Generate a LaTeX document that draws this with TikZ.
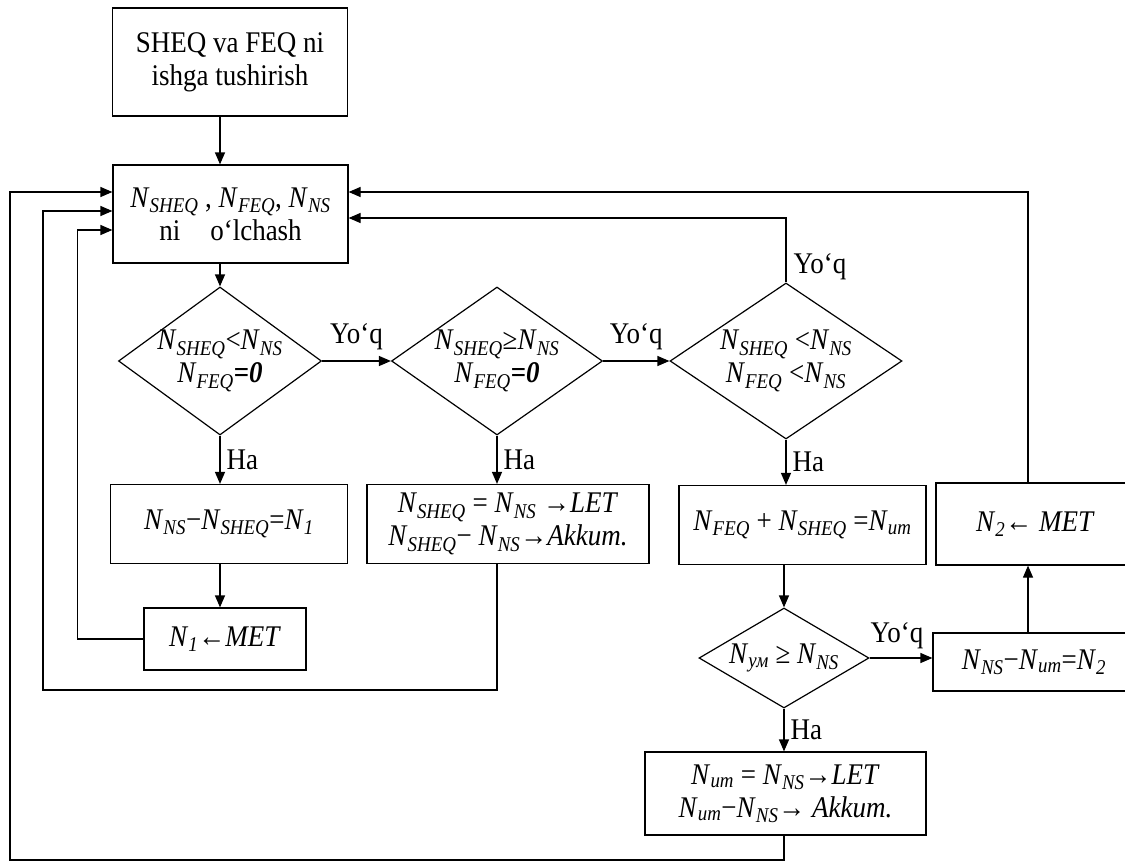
\documentclass[tikz,border=0pt]{standalone}
\usepackage{fontspec}
\setmainfont{Liberation Serif}[FakeStretch=0.9]
\usetikzlibrary{arrows.meta,positioning,calc,shapes.geometric}
\newcommand{\Nx}[1]{\textit{N}\textsubscript{\textit{#1}}}

\begin{document}
\begin{tikzpicture}[x=1pt,y=-1pt,line width=1.2pt,>={Triangle[length=12pt,width=10pt]},
  font=\fontsize{30}{33}\selectfont,
  box/.style={draw,fill=white,inner sep=2pt,align=center},
  dec/.style={draw,fill=white,diamond,inner sep=0pt},
  ans/.style={inner sep=3pt}]
  \useasboundingbox (0,0) rectangle (1125,862);
  \clip (0,0) rectangle (1125,862);
  % boxes and decisions
  \node[box,minimum width=235pt,minimum height=108pt] (start) at (230,62) {SHEQ va FEQ ni\\ ishga tushirish};
  \node[box,minimum width=235pt,minimum height=98pt]  (meas)  at (230.5,214) {\Nx{SHEQ} , \Nx{FEQ}, \Nx{NS}\\ ni\quad o‘lchash};
  \node[dec,minimum width=203pt,minimum height=148pt,label={[align=center]center:{\Nx{SHEQ}<\Nx{NS}\\\Nx{FEQ}\textbf{=\textit{0}}}}] (d1) at (220,361) {};
  \node[dec,minimum width=211pt,minimum height=148pt,label={[align=center]center:{\Nx{SHEQ}≥\Nx{NS}\\\Nx{FEQ}\textbf{=\textit{0}}}}] (d2) at (497,361) {};
  \node[dec,minimum width=232pt,minimum height=156pt,label={[align=center]center:{\Nx{SHEQ} <\Nx{NS}\\\Nx{FEQ} <\Nx{NS}}}] (d3) at (786,361) {};
  \node[box,minimum width=237pt,minimum height=79pt] (nOne)  at (229,524) {\Nx{NS}−\Nx{SHEQ}=\Nx{1}};
  \node[box,minimum width=282pt,minimum height=79pt] (let)   at (508,524) {\Nx{SHEQ} = \Nx{NS} →\textit{LET}\\ \Nx{SHEQ}− \Nx{NS}→\textit{Akkum.}};
  \node[box,minimum width=162pt,minimum height=62pt] (metOne) at (225,639) {\Nx{1}←\textit{MET}};
  \node[box,minimum width=247pt,minimum height=79pt] (sum)   at (802.5,525) {\Nx{FEQ} + \Nx{SHEQ} =\Nx{um}};
  \node[dec,minimum width=170pt,minimum height=100pt,label={center:{\Nx{ум} ≥ \Nx{NS}}}] (d4) at (784,658) {};
  \node[box,minimum width=199pt,minimum height=82pt] (metTwo) at (1035.5,524) {\Nx{2}← \textit{MET}};
  \node[box,minimum width=202pt,minimum height=58pt] (nTwo)  at (1034,662) {\Nx{NS}−\Nx{um}=\Nx{2}};
  \node[box,minimum width=281pt,minimum height=83pt] (letTwo) at (785.5,793.5) {\Nx{um} = \Nx{NS}→\textit{LET}\\ \Nx{um}−\Nx{NS}→ \textit{Akkum.}};
  % main flow
  \draw[->] (start.south -| d1.north) -- (meas.north -| d1.north);
  \draw[->] (meas.south -| d1.north) -- (d1.north);
  \draw[->] (d1.east) -- node[ans,above=8pt]{Yo‘q} (d2.west);
  \draw[->] (d2.east) -- node[ans,above=8pt]{Yo‘q} (d3.west);
  \draw[->] (d1.south) -- node[ans,right,xshift=3pt]{Ha} (nOne.north -| d1.south);
  \draw[->] (d2.south) -- node[ans,right,xshift=3pt]{Ha} (let.north -| d2.south);
  \draw[->] (d3.south) -- node[ans,right,xshift=3pt]{Ha} (sum.north -| d3.south);
  \draw[->] (nOne.south -| d1.south) -- (metOne.north -| d1.south);
  \draw[->] (sum.south -| d4.north) -- (d4.north);
  \draw[->] (d4.east) -- node[ans,above=6pt,xshift=-4pt]{Yo‘q} (d4.east -| nTwo.west);
  \draw[->] (d4.south) -- node[ans,right,xshift=3pt]{Ha} (letTwo.north -| d4.south);
  \draw[->] ([xshift=-6pt]nTwo.north) -- ([xshift=-6pt]nTwo.north |- metTwo.south);
  % feedback loops
  \draw[->] (metOne.west) -- ++(-66,0) |- ($(meas.west)+(0,16)$);
  \draw[->] (let.south -| d2.south) |- (43,690) |- ($(meas.west)+(0,-3)$);
  \draw[->] (letTwo.south -| d4.south) |- (10,860) |- ($(meas.west)+(0,-22)$);
  \draw[->] (d3.north) |- node[ans,right,pos=0.12,xshift=4pt]{Yo‘q} ($(meas.east)+(0,4)$);
  \draw[->] ([xshift=-7.5pt]metTwo.north) |- ($(meas.east)+(0,-22)$);
\end{tikzpicture}
\end{document}
